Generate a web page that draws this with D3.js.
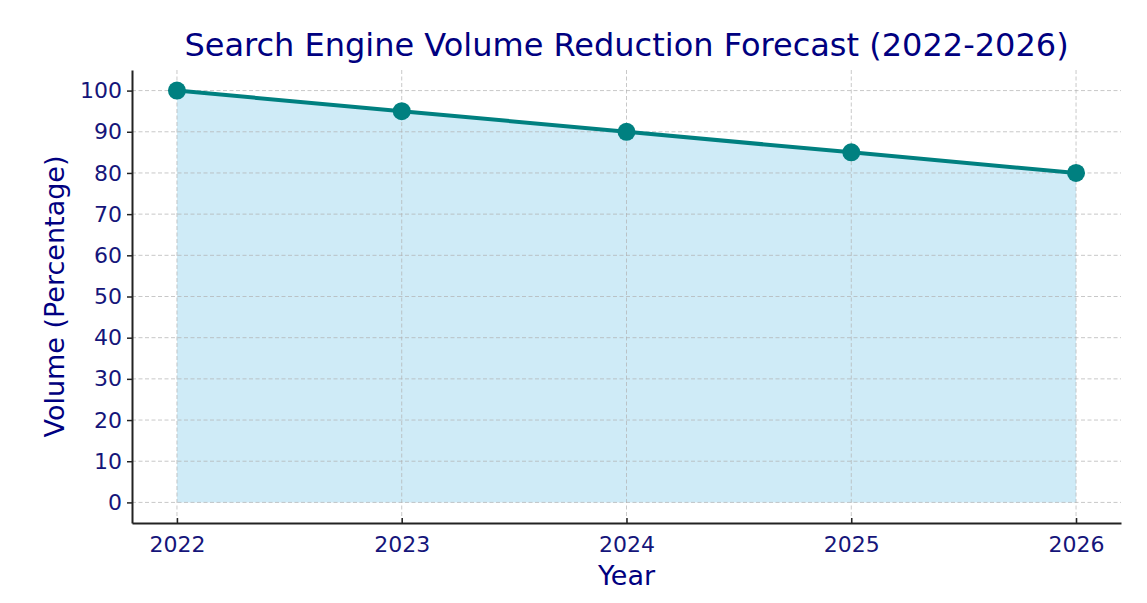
<!DOCTYPE html>
<html>
<head>
<meta charset="utf-8">
<script src="https://cdn.jsdelivr.net/npm/d3@7"></script>
<style>
  body { margin: 0; background: #fff; }
  text { font-family: "DejaVu Sans", sans-serif; }
</style>
</head>
<body>
<div id="chart"></div>
<script>
var width = 1147;
var height = 603;

// data
var years = [2022, 2023, 2024, 2025, 2026];
var volume = [100, 95, 90, 85, 80];
var yTicks = [0, 10, 20, 30, 40, 50, 60, 70, 80, 90, 100];

var plotLeft = 132, plotRight = 1121, plotTop = 70, plotBottom = 523;
var navy = "#15157a";

var svg = d3.select("#chart").append("svg")
    .attr("width", width)
    .attr("height", height);

var x = d3.scaleLinear().domain([2021.8, 2026.2]).range([plotLeft, plotRight]);
var y = d3.scaleLinear().domain([-5, 105]).range([plotBottom, plotTop]);

var data = years.map((d, i) => ({year: d, value: volume[i]}));

// area under the line
var area = d3.area()
    .x(d => x(d.year))
    .y0(y(0))
    .y1(d => y(d.value));
svg.append("path")
    .datum(data)
    .attr("d", area)
    .attr("fill", "#87ceeb")
    .attr("fill-opacity", 0.4);

// grid
svg.append("g")
    .selectAll("line")
    .data(yTicks)
    .join("line")
    .attr("x1", plotLeft).attr("x2", plotRight)
    .attr("y1", d => y(d)).attr("y2", d => y(d))
    .attr("stroke", "#b0b0b0")
    .attr("stroke-opacity", 0.7)
    .attr("stroke-width", 1)
    .attr("stroke-dasharray", "4,2.5");
svg.append("g")
    .selectAll("line")
    .data(years)
    .join("line")
    .attr("x1", d => x(d)).attr("x2", d => x(d))
    .attr("y1", plotTop).attr("y2", plotBottom)
    .attr("stroke", "#b0b0b0")
    .attr("stroke-opacity", 0.7)
    .attr("stroke-width", 1)
    .attr("stroke-dasharray", "4,2.5");

// axes
var xAxis = d3.axisBottom(x).tickValues(years).tickFormat(d3.format("d")).tickSize(5).tickPadding(5).tickSizeOuter(0);
var gx = svg.append("g")
    .attr("transform", "translate(0," + plotBottom + ")")
    .call(xAxis);
gx.select(".domain").attr("stroke", "#222").attr("stroke-width", 2);
gx.selectAll(".tick line").attr("stroke", "#222").attr("stroke-width", 1.5).attr("y1", -5).attr("y2", 0);
gx.selectAll(".tick text").attr("fill", navy).style("font-size", "22px").attr("dy", "0.85em");

var yAxis = d3.axisLeft(y).tickValues(yTicks).tickSize(5).tickPadding(5).tickSizeOuter(0);
var gy = svg.append("g")
    .attr("transform", "translate(" + plotLeft + ",0)")
    .call(yAxis);
gy.select(".domain").attr("stroke", "#222").attr("stroke-width", 2);
gy.selectAll(".tick line").attr("stroke", "#222").attr("stroke-width", 1.5).attr("x1", 0).attr("x2", -5);
gy.selectAll(".tick text").attr("fill", navy).style("font-size", "22px");

// line + markers
var line = d3.line()
    .x(d => x(d.year))
    .y(d => y(d.value));
svg.append("path")
    .datum(data)
    .attr("d", line)
    .attr("fill", "none")
    .attr("stroke", "#008080")
    .attr("stroke-width", 4);
svg.append("g")
    .selectAll("circle")
    .data(data)
    .join("circle")
    .attr("cx", d => x(d.year))
    .attr("cy", d => y(d.value))
    .attr("r", 9)
    .attr("fill", "#008080");

// labels
svg.append("text")
    .attr("x", (plotLeft + plotRight) / 2)
    .attr("y", 56)
    .attr("text-anchor", "middle")
    .attr("fill", "#000080")
    .style("font-size", "32px")
    .text("Search Engine Volume Reduction Forecast (2022-2026)");

svg.append("text")
    .attr("x", (plotLeft + plotRight) / 2)
    .attr("y", 585)
    .attr("text-anchor", "middle")
    .attr("fill", "#000080")
    .style("font-size", "27px")
    .text("Year");

svg.append("text")
    .attr("transform", "translate(64," + ((plotTop + plotBottom) / 2) + ") rotate(-90)")
    .attr("text-anchor", "middle")
    .attr("fill", "#000080")
    .style("font-size", "27px")
    .text("Volume (Percentage)");
</script>
</body>
</html>
